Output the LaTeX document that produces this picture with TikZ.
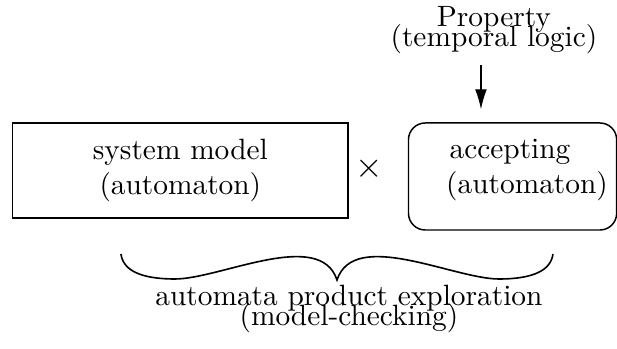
\documentclass[tikz,border=0pt]{standalone}
\usepackage{amsmath,amssymb}
\usepackage{tikz}
\usetikzlibrary{arrows.meta}
\usetikzlibrary{positioning}

\begin{document}
\begin{tikzpicture}[
  every node/.style={font=\normalsize},
  modelbox/.style={draw, line width=0.5pt, align=center, minimum width=4.01cm, minimum height=1.14cm},
  propbox/.style={draw, line width=0.5pt, rounded corners=0.2cm, minimum width=2.49cm, minimum height=1.28cm},
  label/.style={align=center, inner sep=0pt},
  brace/.style={line width=0.55pt}
]
\useasboundingbox (0,0) rectangle (7.38,4.174);

% the two automata
\node[modelbox] (sys) at (2.157,2.135) {system model\\(automaton)};
\node[font=\fontsize{11.5pt}{13pt}\selectfont] (times) at (4.413,2.153) {$\times$};
\node[propbox] (accbox) at (6.131,2.063) {};
\node[label] (acc) at (6.100,2.142) {accepting\\\hspace*{11.6pt}(automaton)};

% property on top
\node[label] (prop) at (5.908,3.815) {Property\\[-5pt](temporal logic)};
\draw[-{Latex[length=6.8pt,width=4pt]}, shorten <=0.13cm, shorten >=0.155cm]
  (prop.south -| 5.753,0) -- (accbox.north -| 5.753,0);

% brace under both
\draw[brace] (1.447,1.136) .. controls (1.471,0.945) and (1.674,0.837) .. (2.093,0.837)
  .. controls (2.631,0.837) and (3.827,1.447) .. (4.031,0.825)
  .. controls (4.234,1.447) and (5.430,0.837) .. (5.968,0.837)
  .. controls (6.387,0.837) and (6.590,0.945) .. (6.614,1.136);
\node[label] (explore) at (4.174,0.48) {automata product exploration\\[-5pt](model-checking)};
\end{tikzpicture}
\end{document}
